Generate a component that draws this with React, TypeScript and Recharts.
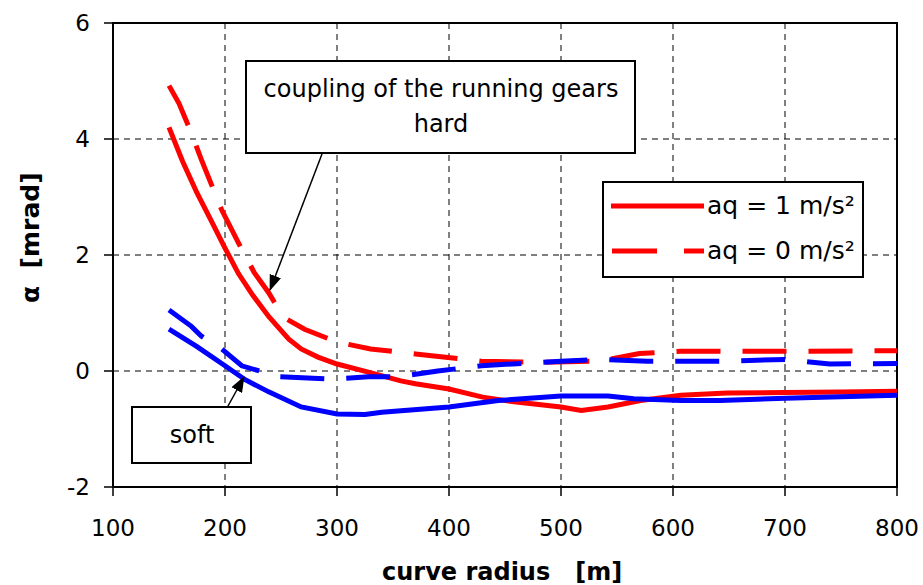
import { LineChart, Line, XAxis, YAxis, CartesianGrid, ReferenceArea } from 'recharts'

// curve radius [m] / alpha [mrad]
const hardRadius1 = [150, 162, 175, 188, 200, 212, 225, 239, 250, 257, 268, 283, 300, 328, 357, 370, 400, 430, 458, 500, 518, 542, 571, 607, 648, 700, 750, 800]
const hardAlpha1 = [4.2, 3.62, 3.07, 2.58, 2.12, 1.68, 1.3, 0.94, 0.7, 0.55, 0.38, 0.24, 0.12, -0.02, -0.17, -0.22, -0.31, -0.45, -0.53, -0.62, -0.68, -0.62, -0.51, -0.42, -0.38, -0.37, -0.36, -0.35]

const hardRadius0 = [150, 159, 169, 179, 197, 212, 226, 239, 252, 271, 300, 330, 372, 429, 485, 535, 570, 607, 700, 800]
const hardAlpha0 = [4.92, 4.61, 4.15, 3.64, 2.78, 2.21, 1.7, 1.35, 0.93, 0.72, 0.5, 0.38, 0.29, 0.17, 0.15, 0.17, 0.3, 0.34, 0.34, 0.35]

const softRadius1 = [150, 175, 200, 218, 239, 268, 300, 325, 340, 400, 444, 500, 542, 565, 607, 642, 700, 800]
const softAlpha1 = [0.72, 0.42, 0.09, -0.15, -0.36, -0.62, -0.74, -0.75, -0.71, -0.62, -0.51, -0.43, -0.43, -0.48, -0.51, -0.51, -0.47, -0.42]

const softRadius0 = [150, 170, 179, 197, 215, 248, 298, 328, 355, 390, 429, 500, 535, 577, 650, 700, 740, 800]
const softAlpha0 = [1.05, 0.77, 0.6, 0.38, 0.09, -0.1, -0.14, -0.1, -0.1, 0.0, 0.09, 0.17, 0.2, 0.17, 0.17, 0.2, 0.12, 0.13]

const xTicks = [100, 200, 300, 400, 500, 600, 700, 800]
const yTicks = [-2, 0, 2, 4, 6]

const legendLabels = ['aq = 1 m/s²', 'aq = 0 m/s²']

function zip(rs: number[], as: number[]) {
  return rs.map((r, i) => ({ radius: r, alpha: as[i] }))
}

const FONT = '"DejaVu Sans", sans-serif'
const RED = '#ff0000'
const BLUE = '#0000ff'
const DASH = '44 22'
const SP = '\u00a0'

const tickStyle = { fontSize: 23, fill: '#000', fontFamily: FONT }

export default function App() {
  return (
    <div style={{ position: 'absolute', left: 0, top: 0, width: 923, height: 585, background: '#fff' }}>
      <LineChart width={923} height={585} margin={{ top: 23, right: 26, bottom: 38, left: 43 }}>
        <CartesianGrid stroke="#000" strokeDasharray="6 5" strokeWidth={1} />
        <XAxis
          dataKey="radius"
          type="number"
          domain={[100, 800]}
          ticks={xTicks}
          height={60}
          axisLine={false}
          tickLine={{ stroke: '#000', strokeWidth: 1.5 }}
          tickSize={9}
          tickMargin={24}
          tick={tickStyle}
          allowDuplicatedCategory={false}
        />
        <YAxis
          type="number"
          domain={[-2, 6]}
          ticks={yTicks}
          width={70}
          axisLine={false}
          tickLine={{ stroke: '#000', strokeWidth: 1.5 }}
          tickSize={9}
          tickMargin={14}
          tick={tickStyle}
        />
        <Line data={zip(hardRadius1, hardAlpha1)} dataKey="alpha" stroke={RED} strokeWidth={5} dot={false} isAnimationActive={false} />
        <Line data={zip(hardRadius0, hardAlpha0)} dataKey="alpha" stroke={RED} strokeWidth={5} strokeDasharray={DASH} dot={false} isAnimationActive={false} />
        <Line data={zip(softRadius1, softAlpha1)} dataKey="alpha" stroke={BLUE} strokeWidth={5} dot={false} isAnimationActive={false} />
        <Line data={zip(softRadius0, softAlpha0)} dataKey="alpha" stroke={BLUE} strokeWidth={5} strokeDasharray={DASH} dot={false} isAnimationActive={false} />
        <ReferenceArea x1={100} x2={800} y1={-2} y2={6} fill="none" stroke="#000" strokeWidth={2} />
      </LineChart>

      <svg width={923} height={585} style={{ position: 'absolute', left: 0, top: 0, pointerEvents: 'none' }}>
        <defs>
          <marker id="arr" markerWidth="16" markerHeight="12" refX="15" refY="6" orient="auto" markerUnits="userSpaceOnUse">
            <path d="M0,0 L16,6 L0,12 z" fill="#000" />
          </marker>
        </defs>
        {/* annotation: hard */}
        <line x1={322} y1={154} x2={270} y2={290} stroke="#000" strokeWidth={1.5} markerEnd="url(#arr)" />
        <rect x={246} y={61} width={389} height={92} fill="#fff" stroke="#000" strokeWidth={2} />
        <text x={441} y={97} textAnchor="middle" fontSize={24} fontFamily={FONT}>coupling of the running gears</text>
        <text x={441} y={132} textAnchor="middle" fontSize={24} fontFamily={FONT}>hard</text>
        {/* annotation: soft */}
        <line x1={228} y1={406} x2={244} y2={377} stroke="#000" strokeWidth={1.5} markerEnd="url(#arr)" />
        <rect x={132} y={407} width={119} height={56} fill="#fff" stroke="#000" strokeWidth={2} />
        <text x={192} y={443} textAnchor="middle" fontSize={24} fontFamily={FONT}>soft</text>
        {/* legend */}
        <rect x={603} y={182} width={260} height={95} fill="#fff" stroke="#000" strokeWidth={2} />
        <line x1={611} y1={206} x2={704} y2={206} stroke={RED} strokeWidth={5} />
        <line x1={612} y1={251} x2={657} y2={251} stroke={RED} strokeWidth={5} />
        <line x1={684} y1={251} x2={704} y2={251} stroke={RED} strokeWidth={5} />
        <text x={707} y={214} fontSize={25} fontFamily={FONT}>{legendLabels[0]}</text>
        <text x={707} y={259} fontSize={25} fontFamily={FONT}>{legendLabels[1]}</text>
        {/* axis titles */}
        <text x={382} y={580} fontSize={24} fontWeight="bold" fontFamily={FONT}>curve radius{SP + SP + SP}[m]</text>
        <text x={0} y={0} transform="translate(39,303) rotate(-90)" fontSize={25} fontWeight="bold" fontFamily={FONT}>α{SP + SP}[mrad]</text>
      </svg>
    </div>
  )
}
